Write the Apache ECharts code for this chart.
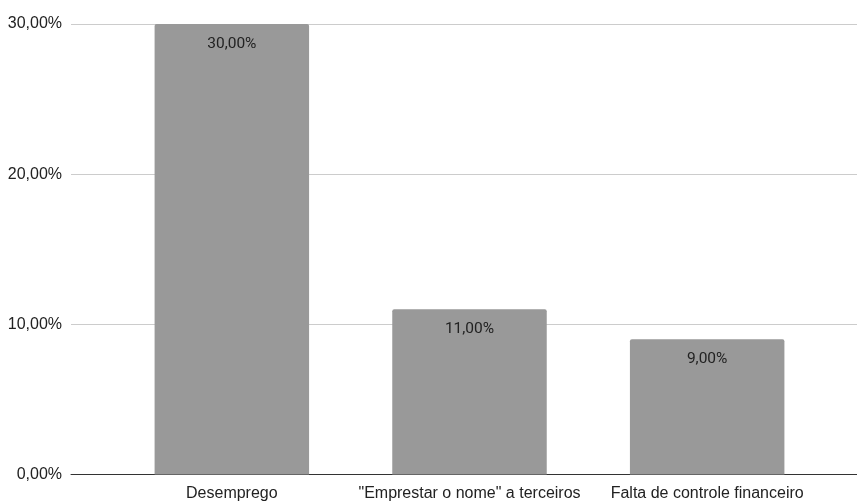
<!DOCTYPE html>
<html>
<head>
<meta charset="utf-8">
<script src="https://cdn.jsdelivr.net/npm/echarts@6/dist/echarts.min.js"></script>
<style>
  html, body { margin: 0; padding: 0; background: #fff; }
  #chart { width: 857px; height: 502px; }
</style>
</head>
<body>
<div id="chart"></div>
<script>
// categorias e valores (%)
var categorias = ['Desemprego', '"Emprestar o nome" a terceiros', 'Falta de controle financeiro'];
var valores = [30, 11, 9];
var ticksY = [0, 10, 20, 30];

function pct(v) {
    return v.toFixed(2).replace('.', ',') + '%';
}

var chart = echarts.init(document.getElementById('chart'));
var option = {
    animation: false,
    textStyle: { fontFamily: 'Liberation Sans' },
    grid: [
        // grade de fundo (linhas e eixo y)
        { left: 71, right: 0, top: 24, bottom: 27.5 },
        // área das barras
        { left: 113, right: 31, top: 24, bottom: 27.5 }
    ],
    xAxis: [
        {
            gridIndex: 0, type: 'category', data: [''],
            axisLine: { show: true, lineStyle: { color: '#333', width: 1 } },
            axisTick: { show: false }, axisLabel: { show: false }
        },
        {
            gridIndex: 1, type: 'category', data: categorias,
            axisLine: { show: false }, axisTick: { show: false },
            axisLabel: { color: '#222', fontSize: 16, margin: 11, interval: 0, fontFamily: 'Liberation Sans' }
        }
    ],
    yAxis: [
        {
            gridIndex: 0, type: 'value', min: ticksY[0], max: ticksY[ticksY.length - 1], interval: 10,
            axisLine: { show: false }, axisTick: { show: false },
            axisLabel: { color: '#222', fontSize: 16, margin: 9, formatter: pct, fontFamily: 'Liberation Sans' },
            splitLine: { lineStyle: { color: '#cccccc', width: 1 } }
        },
        {
            gridIndex: 1, type: 'value', min: ticksY[0], max: ticksY[ticksY.length - 1], interval: 10,
            show: false, splitLine: { show: false }
        }
    ],
    series: [{
        type: 'bar',
        xAxisIndex: 1,
        yAxisIndex: 1,
        data: valores,
        barWidth: '65%',
        itemStyle: { color: '#999999', borderRadius: [2, 2, 0, 0] },
        label: {
            show: true,
            position: 'insideTop',
            distance: 12,
            color: '#222',
            fontSize: 15.5,
            fontFamily: 'Roboto',
            formatter: function (p) { return pct(p.value); }
        }
    }]
};
chart.setOption(option);
</script>
</body>
</html>
